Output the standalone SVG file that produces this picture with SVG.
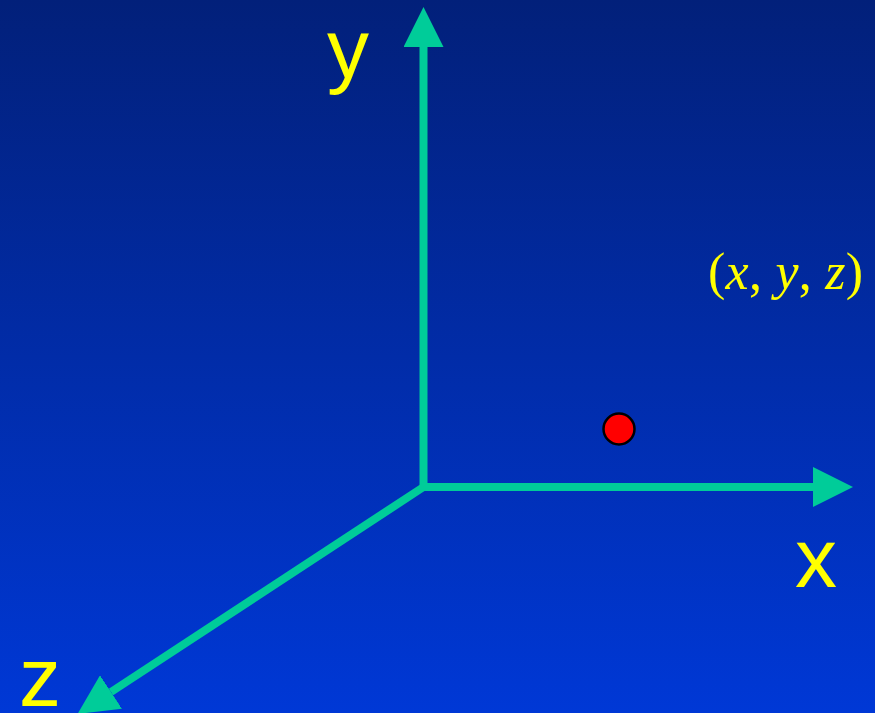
<svg xmlns="http://www.w3.org/2000/svg" width="875" height="713" viewBox="0 0 875 713">
  <defs>
    <linearGradient id="bg" x1="0" y1="0" x2="0" y2="1">
      <stop offset="0" stop-color="#02207A"/>
      <stop offset="1" stop-color="#0038D6"/>
    </linearGradient>
    <marker id="head" markerUnits="userSpaceOnUse" markerWidth="40" markerHeight="40" refX="0" refY="20" orient="auto" viewBox="0 0 40 40">
      <path d="M0,0 L40,20 L0,40 Z" fill="#00CC99"/>
    </marker>
    <style>
      .axis { stroke: #00CC99; stroke-width: 8; fill: none; marker-end: url(#head); }
      .lbl { font-family: "Liberation Sans", Arial, sans-serif; font-size: 84px; fill: #FFFF00; }
      .pt { font-family: "Liberation Serif", "Times New Roman", serif; font-size: 52px; fill: #FFFF00; }
      .pt .i { font-style: italic; }
    </style>
  </defs>
  <rect x="0" y="0" width="875" height="713" fill="url(#bg)"/>
  <g id="connectors">
    <line class="axis" x1="423.5" y1="491" x2="423.5" y2="47"/>
    <line class="axis" x1="420" y1="487" x2="813" y2="487"/>
    <line class="axis" x1="423.5" y1="487" x2="111" y2="692"/>
  </g>
  <g id="label-y"><text class="lbl" x="327" y="78">y</text></g>
  <g id="label-x"><text class="lbl" x="795" y="587">x</text></g>
  <g id="label-z"><text class="lbl" x="19" y="706">z</text></g>
  <g id="point">
    <circle cx="619" cy="429" r="15.5" fill="#FF0000" stroke="#000000" stroke-width="2.5"/>
  </g>
  <g id="point-label">
    <text class="pt" x="708" y="289" textLength="155" lengthAdjust="spacing">(<tspan class="i">x</tspan>, <tspan class="i">y</tspan>, <tspan class="i">z</tspan>)</text>
  </g>
</svg>
